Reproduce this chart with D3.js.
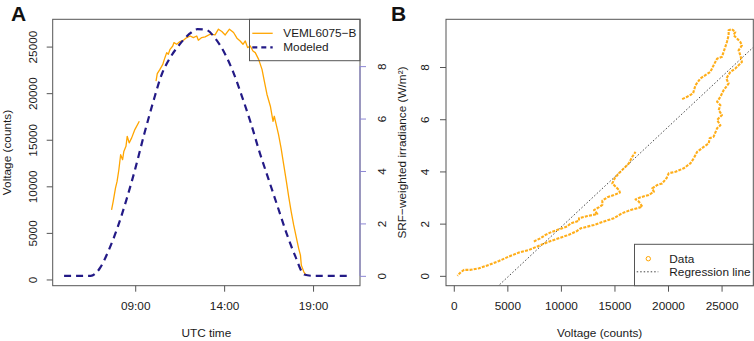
<!DOCTYPE html>
<head>
  <meta charset="utf-8">
  <title>VEML6075-B vs modeled irradiance</title>
  <script src="https://d3js.org/d3.v7.min.js"></script>
  <style>
    body { margin: 0; background: #fff; }
    text { font-family: "Liberation Sans", Arial, Helvetica, sans-serif; }
  </style>
</head>
<body>
  <div id="chart"></div>

  <script type="text/javascript">

    // ---- data ----

    // modeled SRF-weighted irradiance, every half hour (UTC, decimal hours)
    var modeledTime = [5, 5.5, 6, 6.5, 7, 7.5, 8, 8.5, 9, 9.5, 10, 10.5, 11, 11.5, 12, 12.5,
      13, 13.5, 14, 14.5, 15, 15.5, 16, 16.5, 17, 17.5, 18, 18.5, 19, 19.5, 20, 20.5, 21];
    var modeledIrr = [0, 0, 0, 0, 0.28, 0.96, 1.83, 2.89, 4.08, 5.39, 6.61, 7.70, 8.36, 8.83, 9.20, 9.41,
      9.38, 9.06, 8.53, 7.79, 6.85, 5.83, 4.70, 3.68, 2.66, 1.64, 0.75, 0.05, 0, 0, 0, 0, 0];

    // VEML6075-B counts (null = gap in the record)
    var vemlTime = [7.67, 7.76, 7.89, 7.98, 8.08, 8.18, 8.29, 8.36, 8.48, 8.55, 8.66, 8.80, 8.98, 9.23,
      9.7,
      10.17, 10.24, 10.39, 10.55, 10.67, 10.77, 10.86, 10.96, 11.11, 11.18, 11.33, 11.52, 11.71, 11.90,
      12.09, 12.27, 12.46, 12.55, 12.74, 12.93, 13.21, 13.49, 13.68, 13.87, 14.06, 14.30, 14.53, 14.72,
      14.90, 15.06, 15.19, 15.32, 15.47, 15.62, 15.75, 15.94, 16.13, 16.26, 16.41, 16.60, 16.75, 16.82,
      16.93, 17.06, 17.20, 17.35, 17.50, 17.63, 17.77, 17.91, 18.07, 18.19, 18.29, 18.34, 18.48, 18.63];
    var vemlCounts = [7470, 8360, 9800, 10520, 11780, 13390, 12860, 13750, 14290, 15370, 14660, 15200, 16090, 16980,
      null,
      21290, 22090, 22550, 23090, 23810, 24350, 24170, 24710, 25060, 25430, 25250, 25540, 25680, 25970,
      26140, 25970, 26140, 25680, 25970, 26040, 26330, 26250, 26870, 26620, 26250, 26870, 26510, 25900,
      25600, 25250, 25600, 24890, 25070, 24530, 24350, 23630, 22550, 21290, 19860, 18600, 16980, 17520,
      16630, 15550, 14120, 12320, 10520, 8900, 7280, 5850, 4420, 3340, 2620, 1540, 820, 390];

    // panel B: counts vs irradiance, morning stretch
    var morningCounts = [7480, 7630, 8100, 8560, 9180, 10110, 10580, 10920, 11690, 11690, 12470, 13400, 13090,
      13560, 13870, 13870, 14340, 14950, 15510, 15420, 14800, 15020, 15420, 15880, 16350, 16660, 16970];
    var morningIrr = [1.31, 1.35, 1.44, 1.57, 1.69, 1.82, 1.89, 2.01, 2.11, 2.21, 2.29, 2.37, 2.52,
      2.63, 2.72, 2.88, 3.01, 3.10, 3.19, 3.29, 3.54, 3.74, 3.93, 4.12, 4.31, 4.56, 4.75];

    // panel B: midday to evening stretch
    var dayCounts = [21320, 21790, 22340, 22560, 23020, 23490, 23950, 24260, 24580, 25040, 25190, 25350, 25500,
      25660, 25660, 25970, 26280, 26120, 26440, 26750, 26900, 26590, 26750, 26900, 26590, 26280, 25820,
      25440, 25660, 25190, 24890, 24580, 24890, 24730, 25040, 24580, 24890, 24580, 24260, 23890, 23800,
      23330, 22720, 22400, 22090, 21470, 20700, 20070, 19860, 19460, 18990, 18530, 18680, 18210, 17440,
      16970, 17280, 17600, 17130, 16510, 15730, 14950, 14020, 13090, 11850, 11510, 10730, 9800, 8870,
      7950, 7010, 6080, 5150, 4220, 3290, 2360, 1580, 960, 650, 335];
    var dayIrr = [6.77, 6.86, 6.99, 7.30, 7.56, 7.69, 7.81, 8.07, 8.32, 8.39, 8.58, 8.77, 8.96,
      9.22, 9.41, 9.45, 9.34, 9.22, 9.09, 8.96, 8.83, 8.64, 8.45, 8.19, 8.07, 7.94, 7.81,
      7.56, 7.37, 7.11, 6.86, 6.67, 6.54, 6.35, 6.16, 5.97, 5.77, 5.65, 5.33, 5.27, 5.07,
      4.94, 4.75, 4.50, 4.31, 4.12, 3.99, 3.93, 3.74, 3.54, 3.48, 3.35, 3.22, 3.10, 3.01,
      2.93, 2.84, 2.65, 2.59, 2.52, 2.40, 2.21, 2.08, 1.95, 1.82, 1.72, 1.57, 1.44, 1.31,
      1.15, 0.99, 0.89, 0.74, 0.57, 0.42, 0.29, 0.23, 0.23, 0.14, 0];

    // regression line (irradiance = a + b * counts)
    var regIntercept = -1.98;
    var regSlope = 0.000384;

    // ticks
    var timeTicks = [9, 14, 19];
    var timeTickLabels = ['09:00', '14:00', '19:00'];
    var countTicks = [0, 5000, 10000, 15000, 20000, 25000];
    var irrTicks = [0, 2, 4, 6, 8];

    // ---- layout ----
    var width = 754, height = 341;
    var boxA = { left: 52.7, right: 360, top: 19.3, bottom: 285.7 };
    var boxB = { left: 446, right: 753.3, top: 19.3, bottom: 285.7 };

    var axisColor = '#555';
    var textColor = '#1a1a1a';
    var orange = '#ffa500';
    var navy = '#231a86';
    var lavender = '#8c86d4';
    var fontSize = 11.8;

    // R-like 4% padding of the data range
    function padded(ext) {
      var r = ext[1] - ext[0];
      return [ext[0] - 0.04 * r, ext[1] + 0.04 * r];
    }

    var svg = d3.select('#chart')
      .append('svg')
        .attr('width', width)
        .attr('height', height);

    svg.append('rect').attr('width', width).attr('height', height).attr('fill', '#fff');

    // ---- scales ----
    var xA = d3.scaleLinear()
      .domain(padded(d3.extent(modeledTime)))
      .range([boxA.left, boxA.right]);
    var yA = d3.scaleLinear()
      .domain(padded(d3.extent(vemlCounts.filter(function (v) { return v !== null; }))))
      .range([boxA.bottom, boxA.top]);
    var yA2 = d3.scaleLinear()
      .domain(padded(d3.extent(modeledIrr)))
      .range([boxA.bottom, boxA.top]);

    var allCounts = morningCounts.concat(dayCounts);
    var allIrr = morningIrr.concat(dayIrr);
    var xB = d3.scaleLinear()
      .domain(padded(d3.extent(allCounts)))
      .range([boxB.left, boxB.right]);
    var yB = d3.scaleLinear()
      .domain(padded(d3.extent(allIrr)))
      .range([boxB.bottom, boxB.top]);

    var plainNum = d3.format('d');

    // tick label styling: R puts y labels parallel to the axis
    function styleAxis(g, color) {
      g.attr('font-size', fontSize).attr('font-family', null);
      g.select('.domain').remove();
      g.selectAll('.tick line').attr('stroke', color || axisColor);
      g.selectAll('.tick text').attr('fill', textColor);
    }
    function rotateLabels(g, dx) {
      g.selectAll('.tick text')
        .attr('x', 0)
        .attr('dy', 0)
        .attr('transform', 'translate(' + dx + ',0) rotate(-90)')
        .style('text-anchor', 'middle');
    }

    // ================= Panel A =================

    var modeledLine = d3.line()
      .x(function (d, i) { return xA(modeledTime[i]); })
      .y(function (d) { return yA2(d); })
      .curve(d3.curveMonotoneX);

    var vemlLine = d3.line()
      .defined(function (d) { return d !== null; })
      .x(function (d, i) { return xA(vemlTime[i]); })
      .y(function (d) { return yA(d); });

    svg.append('path')
      .datum(vemlCounts)
      .attr('d', vemlLine)
      .attr('fill', 'none')
      .attr('stroke', orange)
      .attr('stroke-width', 1.3)
      .attr('stroke-linejoin', 'round');

    svg.append('path')
      .datum(modeledIrr)
      .attr('d', modeledLine)
      .attr('fill', 'none')
      .attr('stroke', navy)
      .attr('stroke-width', 2.2)
      .attr('stroke-dasharray', '7,5');

    // box
    svg.append('rect')
      .attr('x', boxA.left).attr('y', boxA.top)
      .attr('width', boxA.right - boxA.left).attr('height', boxA.bottom - boxA.top)
      .attr('fill', 'none').attr('stroke', axisColor).attr('stroke-width', 1);

    // left axis
    svg.append('g')
        .attr('transform', 'translate(' + boxA.left + ',0)')
        .call(d3.axisLeft(yA).tickValues(countTicks).tickSize(6).tickSizeOuter(0).tickFormat(plainNum))
        .call(function (g) { styleAxis(g); rotateLabels(g, -16); });

    // right axis (modeled)
    svg.append('line')
      .attr('x1', boxA.right).attr('x2', boxA.right)
      .attr('y1', yA2(irrTicks[0])).attr('y2', yA2(irrTicks[irrTicks.length - 1]))
      .attr('stroke', lavender).attr('stroke-width', 1);
    svg.append('g')
        .attr('transform', 'translate(' + boxA.right + ',0)')
        .call(d3.axisRight(yA2).tickValues(irrTicks).tickSize(6).tickSizeOuter(0))
        .call(function (g) { styleAxis(g, lavender); rotateLabels(g, 26); });

    // bottom axis
    svg.append('g')
        .attr('transform', 'translate(0,' + boxA.bottom + ')')
        .call(d3.axisBottom(xA).tickValues(timeTicks).tickSize(6).tickSizeOuter(0)
          .tickFormat(function (d, i) { return timeTickLabels[i]; }))
        .call(function (g) { styleAxis(g); g.selectAll('.tick text').attr('y', 16); });

    // axis titles
    svg.append('text')
      .attr('x', (boxA.left + boxA.right) / 2).attr('y', 337)
      .attr('text-anchor', 'middle').attr('font-size', fontSize).attr('fill', textColor)
      .text('UTC time');
    svg.append('text')
      .attr('transform', 'translate(10.5,' + (boxA.top + boxA.bottom) / 2 + ') rotate(-90)')
      .attr('text-anchor', 'middle').attr('font-size', fontSize).attr('fill', textColor)
      .text('Voltage (counts)');

    // legend (transparent background)
    var legA = svg.append('g');
    legA.append('rect')
      .attr('x', 249.5).attr('y', boxA.top).attr('width', boxA.right - 249.5).attr('height', 41.4)
      .attr('fill', 'none').attr('stroke', axisColor);
    legA.append('line')
      .attr('x1', 252.3).attr('x2', 272.7).attr('y1', 33.3).attr('y2', 33.3)
      .attr('stroke', orange).attr('stroke-width', 1.3);
    legA.append('line')
      .attr('x1', 252.3).attr('x2', 272.7).attr('y1', 47.3).attr('y2', 47.3)
      .attr('stroke', navy).attr('stroke-width', 2.2).attr('stroke-dasharray', '5,4');
    legA.append('text')
      .attr('x', 283.3).attr('y', 33.3).attr('dy', '0.35em')
      .attr('font-size', fontSize).attr('fill', textColor).text('VEML6075\u2212B');
    legA.append('text')
      .attr('x', 283.3).attr('y', 47.3).attr('dy', '0.35em')
      .attr('font-size', fontSize).attr('fill', textColor).text('Modeled');

    // panel letter
    svg.append('text')
      .attr('x', 11).attr('y', 20.5)
      .attr('font-size', 21).attr('font-weight', 'bold').attr('fill', '#111')
      .text('A');

    // ================= Panel B =================

    svg.append('clipPath').attr('id', 'clipB')
      .append('rect')
        .attr('x', boxB.left).attr('y', boxB.top)
        .attr('width', boxB.right - boxB.left).attr('height', boxB.bottom - boxB.top);

    // regression line across the whole plotting region
    var regX = xB.domain();
    svg.append('line')
      .attr('clip-path', 'url(#clipB)')
      .attr('x1', xB(regX[0])).attr('y1', yB(regIntercept + regSlope * regX[0]))
      .attr('x2', xB(regX[1])).attr('y2', yB(regIntercept + regSlope * regX[1]))
      .attr('stroke', '#444').attr('stroke-width', 1).attr('stroke-dasharray', '1.5,2');

    var scatterLine = d3.line()
      .x(function (d) { return xB(d[0]); })
      .y(function (d) { return yB(d[1]); });

    // dense points drawn as a beaded trace
    [[morningCounts, morningIrr], [dayCounts, dayIrr]].forEach(function (pair) {
      var pts = pair[0].map(function (c, i) { return [c, pair[1][i]]; });
      svg.append('path')
        .datum(pts)
        .attr('d', scatterLine)
        .attr('fill', 'none')
        .attr('stroke', orange)
        .attr('stroke-opacity', 0.9)
        .attr('stroke-width', 2.1)
        .attr('stroke-dasharray', '3,1.2')
        .attr('stroke-linejoin', 'round');
    });

    // box
    svg.append('rect')
      .attr('x', boxB.left).attr('y', boxB.top)
      .attr('width', boxB.right - boxB.left).attr('height', boxB.bottom - boxB.top)
      .attr('fill', 'none').attr('stroke', axisColor).attr('stroke-width', 1);

    svg.append('g')
        .attr('transform', 'translate(' + boxB.left + ',0)')
        .call(d3.axisLeft(yB).tickValues(irrTicks).tickSize(6).tickSizeOuter(0))
        .call(function (g) { styleAxis(g); rotateLabels(g, -17); });

    svg.append('g')
        .attr('transform', 'translate(0,' + boxB.bottom + ')')
        .call(d3.axisBottom(xB).tickValues(countTicks).tickSize(6).tickSizeOuter(0).tickFormat(plainNum))
        .call(function (g) { styleAxis(g); g.selectAll('.tick text').attr('y', 16); });

    svg.append('text')
      .attr('x', (boxB.left + boxB.right) / 2).attr('y', 337)
      .attr('text-anchor', 'middle').attr('font-size', fontSize).attr('fill', textColor)
      .text('Voltage (counts)');
    svg.append('text')
      .attr('transform', 'translate(405.5,' + (boxB.top + boxB.bottom) / 2 + ') rotate(-90)')
      .attr('text-anchor', 'middle').attr('font-size', fontSize).attr('fill', textColor)
      .text('SRF\u2212weighted irradiance (W/m\u00b2)');

    // legend
    var legB = svg.append('g');
    legB.append('rect')
      .attr('x', 634.5).attr('y', 244.3).attr('width', boxB.right - 634.5).attr('height', boxB.bottom - 244.3)
      .attr('fill', '#fff').attr('stroke', axisColor);
    legB.append('circle')
      .attr('cx', 648.3).attr('cy', 258.7).attr('r', 2.2)
      .attr('fill', 'none').attr('stroke', orange).attr('stroke-width', 1);
    legB.append('line')
      .attr('x1', 636.7).attr('x2', 658.3).attr('y1', 271.8).attr('y2', 271.8)
      .attr('stroke', '#444').attr('stroke-dasharray', '1.5,2');
    legB.append('text')
      .attr('x', 669.3).attr('y', 258.7).attr('dy', '0.35em')
      .attr('font-size', fontSize).attr('fill', textColor).text('Data');
    legB.append('text')
      .attr('x', 669.3).attr('y', 272.3).attr('dy', '0.35em')
      .attr('font-size', fontSize).attr('fill', textColor).text('Regression line');

    svg.append('text')
      .attr('x', 391).attr('y', 20.5)
      .attr('font-size', 21).attr('font-weight', 'bold').attr('fill', '#111')
      .text('B');
  </script>
</body>
